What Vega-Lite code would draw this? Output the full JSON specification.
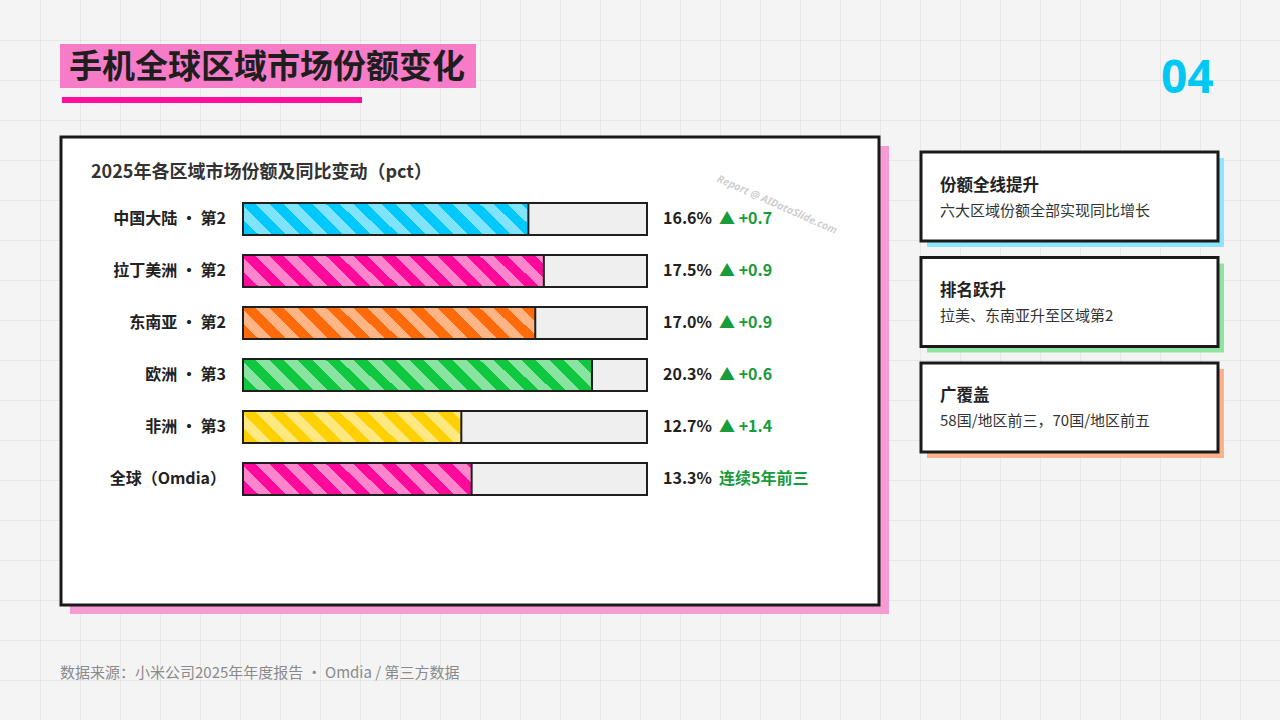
{
  "$schema": "https://vega.github.io/schema/vega-lite/v6.json",
  "width": 1280,
  "height": 720,
  "autosize": {"type": "fit", "contains": "padding"},
  "padding": 0,
  "background": "#f4f4f4",
  "config": {"view": {"stroke": null}, "font": "Noto Sans CJK SC"},
  "resolve": {
    "scale": {"x": "independent", "y": "independent", "fill": "independent"},
    "axis": {"x": "independent", "y": "independent"}
  },
  "layer": [
    {
      "data": {"values": [{}]},
      "layer": [
        {
          "mark": {"type": "rect", "fill": {"gradient": "linear", "x1": 0, "y1": 0, "x2": 1, "y2": 0, "stops": [
            {"offset": 0, "color": "rgba(0,0,0,0)"},
            {"offset": 0.03125, "color": "rgba(0,0,0,0)"}, {"offset": 0.03125, "color": "rgba(0,0,0,0.055)"}, {"offset": 0.03203, "color": "rgba(0,0,0,0.055)"}, {"offset": 0.03203, "color": "rgba(0,0,0,0)"},
            {"offset": 0.0625, "color": "rgba(0,0,0,0)"}, {"offset": 0.0625, "color": "rgba(0,0,0,0.055)"}, {"offset": 0.06328, "color": "rgba(0,0,0,0.055)"}, {"offset": 0.06328, "color": "rgba(0,0,0,0)"},
            {"offset": 0.09375, "color": "rgba(0,0,0,0)"}, {"offset": 0.09375, "color": "rgba(0,0,0,0.055)"}, {"offset": 0.09453, "color": "rgba(0,0,0,0.055)"}, {"offset": 0.09453, "color": "rgba(0,0,0,0)"},
            {"offset": 0.125, "color": "rgba(0,0,0,0)"}, {"offset": 0.125, "color": "rgba(0,0,0,0.055)"}, {"offset": 0.12578, "color": "rgba(0,0,0,0.055)"}, {"offset": 0.12578, "color": "rgba(0,0,0,0)"},
            {"offset": 0.15625, "color": "rgba(0,0,0,0)"}, {"offset": 0.15625, "color": "rgba(0,0,0,0.055)"}, {"offset": 0.15703, "color": "rgba(0,0,0,0.055)"}, {"offset": 0.15703, "color": "rgba(0,0,0,0)"},
            {"offset": 0.1875, "color": "rgba(0,0,0,0)"}, {"offset": 0.1875, "color": "rgba(0,0,0,0.055)"}, {"offset": 0.18828, "color": "rgba(0,0,0,0.055)"}, {"offset": 0.18828, "color": "rgba(0,0,0,0)"},
            {"offset": 0.21875, "color": "rgba(0,0,0,0)"}, {"offset": 0.21875, "color": "rgba(0,0,0,0.055)"}, {"offset": 0.21953, "color": "rgba(0,0,0,0.055)"}, {"offset": 0.21953, "color": "rgba(0,0,0,0)"},
            {"offset": 0.25, "color": "rgba(0,0,0,0)"}, {"offset": 0.25, "color": "rgba(0,0,0,0.055)"}, {"offset": 0.25078, "color": "rgba(0,0,0,0.055)"}, {"offset": 0.25078, "color": "rgba(0,0,0,0)"},
            {"offset": 0.28125, "color": "rgba(0,0,0,0)"}, {"offset": 0.28125, "color": "rgba(0,0,0,0.055)"}, {"offset": 0.28203, "color": "rgba(0,0,0,0.055)"}, {"offset": 0.28203, "color": "rgba(0,0,0,0)"},
            {"offset": 0.3125, "color": "rgba(0,0,0,0)"}, {"offset": 0.3125, "color": "rgba(0,0,0,0.055)"}, {"offset": 0.31328, "color": "rgba(0,0,0,0.055)"}, {"offset": 0.31328, "color": "rgba(0,0,0,0)"},
            {"offset": 0.34375, "color": "rgba(0,0,0,0)"}, {"offset": 0.34375, "color": "rgba(0,0,0,0.055)"}, {"offset": 0.34453, "color": "rgba(0,0,0,0.055)"}, {"offset": 0.34453, "color": "rgba(0,0,0,0)"},
            {"offset": 0.375, "color": "rgba(0,0,0,0)"}, {"offset": 0.375, "color": "rgba(0,0,0,0.055)"}, {"offset": 0.37578, "color": "rgba(0,0,0,0.055)"}, {"offset": 0.37578, "color": "rgba(0,0,0,0)"},
            {"offset": 0.40625, "color": "rgba(0,0,0,0)"}, {"offset": 0.40625, "color": "rgba(0,0,0,0.055)"}, {"offset": 0.40703, "color": "rgba(0,0,0,0.055)"}, {"offset": 0.40703, "color": "rgba(0,0,0,0)"},
            {"offset": 0.4375, "color": "rgba(0,0,0,0)"}, {"offset": 0.4375, "color": "rgba(0,0,0,0.055)"}, {"offset": 0.43828, "color": "rgba(0,0,0,0.055)"}, {"offset": 0.43828, "color": "rgba(0,0,0,0)"},
            {"offset": 0.46875, "color": "rgba(0,0,0,0)"}, {"offset": 0.46875, "color": "rgba(0,0,0,0.055)"}, {"offset": 0.46953, "color": "rgba(0,0,0,0.055)"}, {"offset": 0.46953, "color": "rgba(0,0,0,0)"},
            {"offset": 0.5, "color": "rgba(0,0,0,0)"}, {"offset": 0.5, "color": "rgba(0,0,0,0.055)"}, {"offset": 0.50078, "color": "rgba(0,0,0,0.055)"}, {"offset": 0.50078, "color": "rgba(0,0,0,0)"},
            {"offset": 0.53125, "color": "rgba(0,0,0,0)"}, {"offset": 0.53125, "color": "rgba(0,0,0,0.055)"}, {"offset": 0.53203, "color": "rgba(0,0,0,0.055)"}, {"offset": 0.53203, "color": "rgba(0,0,0,0)"},
            {"offset": 0.5625, "color": "rgba(0,0,0,0)"}, {"offset": 0.5625, "color": "rgba(0,0,0,0.055)"}, {"offset": 0.56328, "color": "rgba(0,0,0,0.055)"}, {"offset": 0.56328, "color": "rgba(0,0,0,0)"},
            {"offset": 0.59375, "color": "rgba(0,0,0,0)"}, {"offset": 0.59375, "color": "rgba(0,0,0,0.055)"}, {"offset": 0.59453, "color": "rgba(0,0,0,0.055)"}, {"offset": 0.59453, "color": "rgba(0,0,0,0)"},
            {"offset": 0.625, "color": "rgba(0,0,0,0)"}, {"offset": 0.625, "color": "rgba(0,0,0,0.055)"}, {"offset": 0.62578, "color": "rgba(0,0,0,0.055)"}, {"offset": 0.62578, "color": "rgba(0,0,0,0)"},
            {"offset": 0.65625, "color": "rgba(0,0,0,0)"}, {"offset": 0.65625, "color": "rgba(0,0,0,0.055)"}, {"offset": 0.65703, "color": "rgba(0,0,0,0.055)"}, {"offset": 0.65703, "color": "rgba(0,0,0,0)"},
            {"offset": 0.6875, "color": "rgba(0,0,0,0)"}, {"offset": 0.6875, "color": "rgba(0,0,0,0.055)"}, {"offset": 0.68828, "color": "rgba(0,0,0,0.055)"}, {"offset": 0.68828, "color": "rgba(0,0,0,0)"},
            {"offset": 0.71875, "color": "rgba(0,0,0,0)"}, {"offset": 0.71875, "color": "rgba(0,0,0,0.055)"}, {"offset": 0.71953, "color": "rgba(0,0,0,0.055)"}, {"offset": 0.71953, "color": "rgba(0,0,0,0)"},
            {"offset": 0.75, "color": "rgba(0,0,0,0)"}, {"offset": 0.75, "color": "rgba(0,0,0,0.055)"}, {"offset": 0.75078, "color": "rgba(0,0,0,0.055)"}, {"offset": 0.75078, "color": "rgba(0,0,0,0)"},
            {"offset": 0.78125, "color": "rgba(0,0,0,0)"}, {"offset": 0.78125, "color": "rgba(0,0,0,0.055)"}, {"offset": 0.78203, "color": "rgba(0,0,0,0.055)"}, {"offset": 0.78203, "color": "rgba(0,0,0,0)"},
            {"offset": 0.8125, "color": "rgba(0,0,0,0)"}, {"offset": 0.8125, "color": "rgba(0,0,0,0.055)"}, {"offset": 0.81328, "color": "rgba(0,0,0,0.055)"}, {"offset": 0.81328, "color": "rgba(0,0,0,0)"},
            {"offset": 0.84375, "color": "rgba(0,0,0,0)"}, {"offset": 0.84375, "color": "rgba(0,0,0,0.055)"}, {"offset": 0.84453, "color": "rgba(0,0,0,0.055)"}, {"offset": 0.84453, "color": "rgba(0,0,0,0)"},
            {"offset": 0.875, "color": "rgba(0,0,0,0)"}, {"offset": 0.875, "color": "rgba(0,0,0,0.055)"}, {"offset": 0.87578, "color": "rgba(0,0,0,0.055)"}, {"offset": 0.87578, "color": "rgba(0,0,0,0)"},
            {"offset": 0.90625, "color": "rgba(0,0,0,0)"}, {"offset": 0.90625, "color": "rgba(0,0,0,0.055)"}, {"offset": 0.90703, "color": "rgba(0,0,0,0.055)"}, {"offset": 0.90703, "color": "rgba(0,0,0,0)"},
            {"offset": 0.9375, "color": "rgba(0,0,0,0)"}, {"offset": 0.9375, "color": "rgba(0,0,0,0.055)"}, {"offset": 0.93828, "color": "rgba(0,0,0,0.055)"}, {"offset": 0.93828, "color": "rgba(0,0,0,0)"},
            {"offset": 0.96875, "color": "rgba(0,0,0,0)"}, {"offset": 0.96875, "color": "rgba(0,0,0,0.055)"}, {"offset": 0.96953, "color": "rgba(0,0,0,0.055)"}, {"offset": 0.96953, "color": "rgba(0,0,0,0)"},
            {"offset": 1, "color": "rgba(0,0,0,0)"}
          ]}},
          "encoding": {
            "x": {"datum": 0, "type": "quantitative", "scale": {"domain": [0, 1280], "nice": false, "zero": false}, "axis": null},
            "x2": {"datum": 1280},
            "y": {"datum": 0, "type": "quantitative", "scale": {"domain": [0, 720], "nice": false, "zero": false, "reverse": true}, "axis": null},
            "y2": {"datum": 720}
          }
        },
        {
          "mark": {"type": "rect", "fill": {"gradient": "linear", "x1": 0, "y1": 0, "x2": 0, "y2": 1, "stops": [
            {"offset": 0, "color": "rgba(0,0,0,0)"},
            {"offset": 0.05556, "color": "rgba(0,0,0,0)"}, {"offset": 0.05556, "color": "rgba(0,0,0,0.055)"}, {"offset": 0.05694, "color": "rgba(0,0,0,0.055)"}, {"offset": 0.05694, "color": "rgba(0,0,0,0)"},
            {"offset": 0.11111, "color": "rgba(0,0,0,0)"}, {"offset": 0.11111, "color": "rgba(0,0,0,0.055)"}, {"offset": 0.1125, "color": "rgba(0,0,0,0.055)"}, {"offset": 0.1125, "color": "rgba(0,0,0,0)"},
            {"offset": 0.16667, "color": "rgba(0,0,0,0)"}, {"offset": 0.16667, "color": "rgba(0,0,0,0.055)"}, {"offset": 0.16806, "color": "rgba(0,0,0,0.055)"}, {"offset": 0.16806, "color": "rgba(0,0,0,0)"},
            {"offset": 0.22222, "color": "rgba(0,0,0,0)"}, {"offset": 0.22222, "color": "rgba(0,0,0,0.055)"}, {"offset": 0.22361, "color": "rgba(0,0,0,0.055)"}, {"offset": 0.22361, "color": "rgba(0,0,0,0)"},
            {"offset": 0.27778, "color": "rgba(0,0,0,0)"}, {"offset": 0.27778, "color": "rgba(0,0,0,0.055)"}, {"offset": 0.27917, "color": "rgba(0,0,0,0.055)"}, {"offset": 0.27917, "color": "rgba(0,0,0,0)"},
            {"offset": 0.33333, "color": "rgba(0,0,0,0)"}, {"offset": 0.33333, "color": "rgba(0,0,0,0.055)"}, {"offset": 0.33472, "color": "rgba(0,0,0,0.055)"}, {"offset": 0.33472, "color": "rgba(0,0,0,0)"},
            {"offset": 0.38889, "color": "rgba(0,0,0,0)"}, {"offset": 0.38889, "color": "rgba(0,0,0,0.055)"}, {"offset": 0.39028, "color": "rgba(0,0,0,0.055)"}, {"offset": 0.39028, "color": "rgba(0,0,0,0)"},
            {"offset": 0.44444, "color": "rgba(0,0,0,0)"}, {"offset": 0.44444, "color": "rgba(0,0,0,0.055)"}, {"offset": 0.44583, "color": "rgba(0,0,0,0.055)"}, {"offset": 0.44583, "color": "rgba(0,0,0,0)"},
            {"offset": 0.5, "color": "rgba(0,0,0,0)"}, {"offset": 0.5, "color": "rgba(0,0,0,0.055)"}, {"offset": 0.50139, "color": "rgba(0,0,0,0.055)"}, {"offset": 0.50139, "color": "rgba(0,0,0,0)"},
            {"offset": 0.55556, "color": "rgba(0,0,0,0)"}, {"offset": 0.55556, "color": "rgba(0,0,0,0.055)"}, {"offset": 0.55694, "color": "rgba(0,0,0,0.055)"}, {"offset": 0.55694, "color": "rgba(0,0,0,0)"},
            {"offset": 0.61111, "color": "rgba(0,0,0,0)"}, {"offset": 0.61111, "color": "rgba(0,0,0,0.055)"}, {"offset": 0.6125, "color": "rgba(0,0,0,0.055)"}, {"offset": 0.6125, "color": "rgba(0,0,0,0)"},
            {"offset": 0.66667, "color": "rgba(0,0,0,0)"}, {"offset": 0.66667, "color": "rgba(0,0,0,0.055)"}, {"offset": 0.66806, "color": "rgba(0,0,0,0.055)"}, {"offset": 0.66806, "color": "rgba(0,0,0,0)"},
            {"offset": 0.72222, "color": "rgba(0,0,0,0)"}, {"offset": 0.72222, "color": "rgba(0,0,0,0.055)"}, {"offset": 0.72361, "color": "rgba(0,0,0,0.055)"}, {"offset": 0.72361, "color": "rgba(0,0,0,0)"},
            {"offset": 0.77778, "color": "rgba(0,0,0,0)"}, {"offset": 0.77778, "color": "rgba(0,0,0,0.055)"}, {"offset": 0.77917, "color": "rgba(0,0,0,0.055)"}, {"offset": 0.77917, "color": "rgba(0,0,0,0)"},
            {"offset": 0.83333, "color": "rgba(0,0,0,0)"}, {"offset": 0.83333, "color": "rgba(0,0,0,0.055)"}, {"offset": 0.83472, "color": "rgba(0,0,0,0.055)"}, {"offset": 0.83472, "color": "rgba(0,0,0,0)"},
            {"offset": 0.88889, "color": "rgba(0,0,0,0)"}, {"offset": 0.88889, "color": "rgba(0,0,0,0.055)"}, {"offset": 0.89028, "color": "rgba(0,0,0,0.055)"}, {"offset": 0.89028, "color": "rgba(0,0,0,0)"},
            {"offset": 0.94444, "color": "rgba(0,0,0,0)"}, {"offset": 0.94444, "color": "rgba(0,0,0,0.055)"}, {"offset": 0.94583, "color": "rgba(0,0,0,0.055)"}, {"offset": 0.94583, "color": "rgba(0,0,0,0)"},
            {"offset": 1, "color": "rgba(0,0,0,0)"}
          ]}},
          "encoding": {
            "x": {"datum": 0, "type": "quantitative", "scale": {"domain": [0, 1280], "nice": false, "zero": false}, "axis": null},
            "x2": {"datum": 1280},
            "y": {"datum": 0, "type": "quantitative", "scale": {"domain": [0, 720], "nice": false, "zero": false, "reverse": true}, "axis": null},
            "y2": {"datum": 720}
          }
        },
        {
          "mark": {"type": "rect", "fill": "#f79bd3"},
          "encoding": {
            "x": {"datum": 70, "type": "quantitative", "scale": {"domain": [0, 1280], "nice": false, "zero": false}, "axis": null},
            "x2": {"datum": 889},
            "y": {"datum": 146, "type": "quantitative", "scale": {"domain": [0, 720], "nice": false, "zero": false, "reverse": true}, "axis": null},
            "y2": {"datum": 614}
          }
        },
        {
          "mark": {"type": "rect", "fill": "#ffffff", "stroke": "#1a1a1a", "strokeWidth": 3},
          "encoding": {
            "x": {"datum": 61, "type": "quantitative", "scale": {"domain": [0, 1280], "nice": false, "zero": false}, "axis": null},
            "x2": {"datum": 879},
            "y": {"datum": 137, "type": "quantitative", "scale": {"domain": [0, 720], "nice": false, "zero": false, "reverse": true}, "axis": null},
            "y2": {"datum": 605}
          }
        },
        {
          "mark": {"type": "rect", "fill": "#f77cc8"},
          "encoding": {
            "x": {"datum": 60, "type": "quantitative", "scale": {"domain": [0, 1280], "nice": false, "zero": false}, "axis": null},
            "x2": {"datum": 476},
            "y": {"datum": 44, "type": "quantitative", "scale": {"domain": [0, 720], "nice": false, "zero": false, "reverse": true}, "axis": null},
            "y2": {"datum": 88}
          }
        },
        {
          "mark": {"type": "rect", "fill": "#ff0f9b"},
          "encoding": {
            "x": {"datum": 62, "type": "quantitative", "scale": {"domain": [0, 1280], "nice": false, "zero": false}, "axis": null},
            "x2": {"datum": 362},
            "y": {"datum": 97, "type": "quantitative", "scale": {"domain": [0, 720], "nice": false, "zero": false, "reverse": true}, "axis": null},
            "y2": {"datum": 103}
          }
        },
        {
          "mark": {"type": "text", "text": "手机全球区域市场份额变化", "align": "left", "baseline": "middle", "fontSize": 33, "fontWeight": "bold", "fill": "#1e1e1e"},
          "encoding": {
            "x": {"datum": 69, "type": "quantitative", "scale": {"domain": [0, 1280], "nice": false, "zero": false}, "axis": null},
            "y": {"datum": 68, "type": "quantitative", "scale": {"domain": [0, 720], "nice": false, "zero": false, "reverse": true}, "axis": null}
          }
        },
        {
          "mark": {"type": "text", "text": "04", "align": "left", "baseline": "middle", "fontSize": 46, "fontWeight": "bold", "fill": "#00c8f5", "font": "Noto Sans"},
          "encoding": {
            "x": {"datum": 1161, "type": "quantitative", "scale": {"domain": [0, 1280], "nice": false, "zero": false}, "axis": null},
            "y": {"datum": 79, "type": "quantitative", "scale": {"domain": [0, 720], "nice": false, "zero": false, "reverse": true}, "axis": null}
          }
        },
        {
          "mark": {"type": "text", "text": "2025年各区域市场份额及同比变动（pct）", "align": "left", "baseline": "middle", "fontSize": 18, "fontWeight": "bold", "fill": "#333333"},
          "encoding": {
            "x": {"datum": 91, "type": "quantitative", "scale": {"domain": [0, 1280], "nice": false, "zero": false}, "axis": null},
            "y": {"datum": 173, "type": "quantitative", "scale": {"domain": [0, 720], "nice": false, "zero": false, "reverse": true}, "axis": null}
          }
        },
        {
          "mark": {"type": "text", "text": "Report @ AIDataSlide.com", "align": "center", "baseline": "middle", "fontSize": 10.5, "fontWeight": "bold", "fontStyle": "italic", "fill": "#cfcfcf", "angle": 24, "font": "Noto Sans"},
          "encoding": {
            "x": {"datum": 777, "type": "quantitative", "scale": {"domain": [0, 1280], "nice": false, "zero": false}, "axis": null},
            "y": {"datum": 205, "type": "quantitative", "scale": {"domain": [0, 720], "nice": false, "zero": false, "reverse": true}, "axis": null}
          }
        },
        {
          "mark": {"type": "text", "text": "数据来源：小米公司2025年年度报告 · Omdia / 第三方数据", "align": "left", "baseline": "middle", "fontSize": 15, "fill": "#8a8a8a"},
          "encoding": {
            "x": {"datum": 60, "type": "quantitative", "scale": {"domain": [0, 1280], "nice": false, "zero": false}, "axis": null},
            "y": {"datum": 673, "type": "quantitative", "scale": {"domain": [0, 720], "nice": false, "zero": false, "reverse": true}, "axis": null}
          }
        }
      ]
    },
    {
      "data": {"values": [
        {"card": "份额全线提升", "desc": "六大区域份额全部实现同比增长"},
        {"card": "排名跃升", "desc": "拉美、东南亚升至区域第2"},
        {"card": "广覆盖", "desc": "58国/地区前三，70国/地区前五"}
      ]},
      "encoding": {
        "y": {"field": "card", "type": "nominal", "sort": null,
          "scale": {"domain": ["份额全线提升", "排名跃升", "广覆盖"], "range": [152, 452], "paddingInner": 0.156, "paddingOuter": 0}, "axis": null}
      },
      "layer": [
        {
          "mark": {"type": "rect", "xOffset": 6, "x2Offset": 6, "yOffset": 6, "y2Offset": 6},
          "encoding": {
            "x": {"datum": 921, "type": "quantitative", "scale": {"domain": [0, 1280], "nice": false, "zero": false}, "axis": null},
            "x2": {"datum": 1218},
            "fill": {"field": "card", "type": "nominal", "scale": {"domain": ["份额全线提升", "排名跃升", "广覆盖"], "range": ["#8de4fb", "#8fe4a0", "#fdb389"]}, "legend": null}
          }
        },
        {
          "mark": {"type": "rect", "fill": "#ffffff", "stroke": "#1a1a1a", "strokeWidth": 3},
          "encoding": {
            "x": {"datum": 921, "type": "quantitative", "scale": {"domain": [0, 1280], "nice": false, "zero": false}, "axis": null},
            "x2": {"datum": 1218}
          }
        },
        {
          "mark": {"type": "text", "align": "left", "baseline": "middle", "dy": -11, "fontSize": 16.5, "fontWeight": "bold", "fill": "#222222"},
          "encoding": {
            "x": {"datum": 940, "type": "quantitative", "scale": {"domain": [0, 1280], "nice": false, "zero": false}, "axis": null},
            "text": {"field": "card"}
          }
        },
        {
          "mark": {"type": "text", "align": "left", "baseline": "middle", "dy": 14, "fontSize": 15, "fill": "#333333"},
          "encoding": {
            "x": {"datum": 940, "type": "quantitative", "scale": {"domain": [0, 1280], "nice": false, "zero": false}, "axis": null},
            "text": {"field": "desc"}
          }
        }
      ]
    },
    {
      "data": {"values": [
        {"label": "中国大陆 · 第2", "share": 0.166, "delta": "▲ +0.7"},
        {"label": "拉丁美洲 · 第2", "share": 0.175, "delta": "▲ +0.9"},
        {"label": "东南亚 · 第2", "share": 0.170, "delta": "▲ +0.9"},
        {"label": "欧洲 · 第3", "share": 0.203, "delta": "▲ +0.6"},
        {"label": "非洲 · 第3", "share": 0.127, "delta": "▲ +1.4"},
        {"label": "全球（Omdia）", "share": 0.133, "delta": "连续5年前三"}
      ]},
      "encoding": {
        "y": {"field": "label", "type": "nominal", "sort": null,
          "scale": {"range": [193, 505], "paddingInner": 0.3846, "paddingOuter": 0.1923}, "axis": null}
      },
      "layer": [
        {
          "mark": {"type": "rect"},
          "encoding": {
            "x": {"field": "share", "type": "quantitative", "scale": {"domain": [0, 0.235], "range": [243, 647], "nice": false, "zero": false}, "axis": null},
            "x2": {"datum": 0},
            "fill": {"field": "label", "type": "nominal",
              "scale": {"domain": ["中国大陆 · 第2", "拉丁美洲 · 第2", "东南亚 · 第2", "欧洲 · 第3", "非洲 · 第3", "全球（Omdia）"],
                "range": ["#00c8fa", "#ff0a9a", "#ff6a0a", "#10c840", "#ffd100", "#ff0a9a"]}, "legend": null}
          }
        },
        {
          "mark": {"type": "rect", "fill": {"gradient": "linear", "x1": 0, "y1": 1, "x2": 1.0725, "y2": 0.915, "stops": [
            {"offset": 0, "color": "rgba(255,255,255,0)"},
            {"offset": 0.0367, "color": "rgba(255,255,255,0)"}, {"offset": 0.0367, "color": "rgba(255,255,255,0.5)"},
            {"offset": 0.0688, "color": "rgba(255,255,255,0.5)"}, {"offset": 0.0688, "color": "rgba(255,255,255,0)"},
            {"offset": 0.1009, "color": "rgba(255,255,255,0)"}, {"offset": 0.1009, "color": "rgba(255,255,255,0.5)"},
            {"offset": 0.1330, "color": "rgba(255,255,255,0.5)"}, {"offset": 0.1330, "color": "rgba(255,255,255,0)"},
            {"offset": 0.1651, "color": "rgba(255,255,255,0)"}, {"offset": 0.1651, "color": "rgba(255,255,255,0.5)"},
            {"offset": 0.1972, "color": "rgba(255,255,255,0.5)"}, {"offset": 0.1972, "color": "rgba(255,255,255,0)"},
            {"offset": 0.2294, "color": "rgba(255,255,255,0)"}, {"offset": 0.2294, "color": "rgba(255,255,255,0.5)"},
            {"offset": 0.2615, "color": "rgba(255,255,255,0.5)"}, {"offset": 0.2615, "color": "rgba(255,255,255,0)"},
            {"offset": 0.2936, "color": "rgba(255,255,255,0)"}, {"offset": 0.2936, "color": "rgba(255,255,255,0.5)"},
            {"offset": 0.3257, "color": "rgba(255,255,255,0.5)"}, {"offset": 0.3257, "color": "rgba(255,255,255,0)"},
            {"offset": 0.3578, "color": "rgba(255,255,255,0)"}, {"offset": 0.3578, "color": "rgba(255,255,255,0.5)"},
            {"offset": 0.3899, "color": "rgba(255,255,255,0.5)"}, {"offset": 0.3899, "color": "rgba(255,255,255,0)"},
            {"offset": 0.4220, "color": "rgba(255,255,255,0)"}, {"offset": 0.4220, "color": "rgba(255,255,255,0.5)"},
            {"offset": 0.4541, "color": "rgba(255,255,255,0.5)"}, {"offset": 0.4541, "color": "rgba(255,255,255,0)"},
            {"offset": 0.4862, "color": "rgba(255,255,255,0)"}, {"offset": 0.4862, "color": "rgba(255,255,255,0.5)"},
            {"offset": 0.5183, "color": "rgba(255,255,255,0.5)"}, {"offset": 0.5183, "color": "rgba(255,255,255,0)"},
            {"offset": 0.5505, "color": "rgba(255,255,255,0)"}, {"offset": 0.5505, "color": "rgba(255,255,255,0.5)"},
            {"offset": 0.5826, "color": "rgba(255,255,255,0.5)"}, {"offset": 0.5826, "color": "rgba(255,255,255,0)"},
            {"offset": 0.6147, "color": "rgba(255,255,255,0)"}, {"offset": 0.6147, "color": "rgba(255,255,255,0.5)"},
            {"offset": 0.6468, "color": "rgba(255,255,255,0.5)"}, {"offset": 0.6468, "color": "rgba(255,255,255,0)"},
            {"offset": 0.6789, "color": "rgba(255,255,255,0)"}, {"offset": 0.6789, "color": "rgba(255,255,255,0.5)"},
            {"offset": 0.7110, "color": "rgba(255,255,255,0.5)"}, {"offset": 0.7110, "color": "rgba(255,255,255,0)"},
            {"offset": 0.7431, "color": "rgba(255,255,255,0)"}, {"offset": 0.7431, "color": "rgba(255,255,255,0.5)"},
            {"offset": 0.7752, "color": "rgba(255,255,255,0.5)"}, {"offset": 0.7752, "color": "rgba(255,255,255,0)"},
            {"offset": 0.8073, "color": "rgba(255,255,255,0)"}, {"offset": 0.8073, "color": "rgba(255,255,255,0.5)"},
            {"offset": 0.8394, "color": "rgba(255,255,255,0.5)"}, {"offset": 0.8394, "color": "rgba(255,255,255,0)"},
            {"offset": 0.8716, "color": "rgba(255,255,255,0)"}, {"offset": 0.8716, "color": "rgba(255,255,255,0.5)"},
            {"offset": 0.9037, "color": "rgba(255,255,255,0.5)"}, {"offset": 0.9037, "color": "rgba(255,255,255,0)"},
            {"offset": 0.9358, "color": "rgba(255,255,255,0)"}, {"offset": 0.9358, "color": "rgba(255,255,255,0.5)"},
            {"offset": 0.9679, "color": "rgba(255,255,255,0.5)"}, {"offset": 0.9679, "color": "rgba(255,255,255,0)"},
            {"offset": 1, "color": "rgba(255,255,255,0)"}
          ]}},
          "encoding": {
            "x": {"datum": 0, "type": "quantitative"},
            "x2": {"datum": 0.235}
          }
        },
        {
          "mark": {"type": "rect", "fill": "#efefef"},
          "encoding": {
            "x": {"field": "share", "type": "quantitative"},
            "x2": {"datum": 0.235}
          }
        },
        {
          "mark": {"type": "rect", "filled": false, "stroke": "#1f1f1f", "strokeWidth": 2},
          "encoding": {
            "x": {"datum": 0, "type": "quantitative"},
            "x2": {"datum": 0.235}
          }
        },
        {
          "mark": {"type": "rect", "filled": false, "stroke": "#1f1f1f", "strokeWidth": 2},
          "encoding": {
            "x": {"field": "share", "type": "quantitative"},
            "x2": {"datum": 0}
          }
        },
        {
          "mark": {"type": "text", "align": "right", "baseline": "middle", "dx": -17, "fontSize": 16, "fontWeight": "bold", "fill": "#222222"},
          "encoding": {
            "x": {"datum": 0, "type": "quantitative"},
            "text": {"field": "label"}
          }
        },
        {
          "mark": {"type": "text", "align": "left", "baseline": "middle", "dx": 16, "fontSize": 16, "fontWeight": "bold", "fill": "#222222"},
          "encoding": {
            "x": {"datum": 0.235, "type": "quantitative"},
            "text": {"field": "share", "type": "quantitative", "format": ".1%"}
          }
        },
        {
          "mark": {"type": "text", "align": "left", "baseline": "middle", "dx": 72, "fontSize": 16, "fontWeight": "bold", "fill": "#179b3b"},
          "encoding": {
            "x": {"datum": 0.235, "type": "quantitative"},
            "text": {"field": "delta"}
          }
        }
      ]
    }
  ]
}
